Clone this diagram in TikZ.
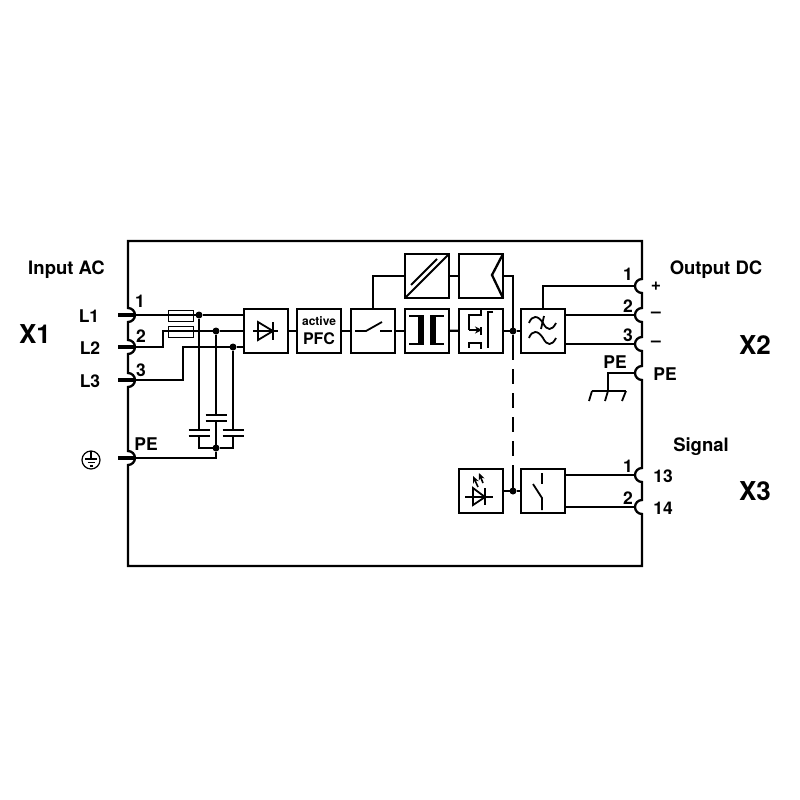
\documentclass[tikz,border=0pt]{standalone}
\usepackage{fontspec}
\setmainfont{TeX Gyre Heros}
\usetikzlibrary{arrows.meta}

\begin{document}
\begin{tikzpicture}[
    x=1pt, y=-1pt,
    line join=miter,
    block/.style={draw, line width=2pt, minimum size=44pt, inner sep=0pt, outer sep=0pt, align=center},
    fuse/.style={draw, line width=1pt, minimum width=25pt, minimum height=11pt, inner sep=0pt, outer sep=0pt},
    wire/.style={line width=2.3pt},
    sym/.style={line width=1.8pt},
    stub/.style={line width=4pt},
    dot/.style={circle, fill, minimum size=7pt, inner sep=0pt, outer sep=0pt},
    lbl/.style={font=\fontsize{17.5}{17.5}\selectfont\bfseries, inner sep=0pt},
    title/.style={font=\fontsize{18.5}{18.5}\selectfont\bfseries, inner sep=0pt},
    big/.style={font=\fontsize{26}{26}\selectfont\bfseries, inner sep=0pt}
]
    \useasboundingbox (0,0) rectangle (800,800);

    % Housing with the terminals cut into both sides
    \draw[wire] (128,241) -- (642,241) -- (642,279)
        arc[start angle=-90, end angle=-270, radius=7] -- (642,308)
        arc[start angle=-90, end angle=-270, radius=7] -- (642,337)
        arc[start angle=-90, end angle=-270, radius=7] -- (642,366)
        arc[start angle=-90, end angle=-270, radius=7] -- (642,468)
        arc[start angle=-90, end angle=-270, radius=7] -- (642,500)
        arc[start angle=-90, end angle=-270, radius=7] -- (642,566)
        -- (128,566) -- (128,465)
        arc[start angle=90, end angle=-90, radius=7] -- (128,387)
        arc[start angle=90, end angle=-90, radius=7] -- (128,354)
        arc[start angle=90, end angle=-90, radius=7] -- (128,322)
        arc[start angle=90, end angle=-90, radius=7] -- cycle;

    % Terminals
    \coordinate (tL1) at (135,315);
    \coordinate (tL2) at (135,347);
    \coordinate (tL3) at (135,380);
    \coordinate (tPE) at (135,458);
    \coordinate (tPlus) at (635,286);
    \coordinate (tMinusA) at (635,315);
    \coordinate (tMinusB) at (635,344);
    \coordinate (tGnd) at (635,373);
    \coordinate (t13) at (635,475);
    \coordinate (t14) at (635,507);
    \foreach \t in {tL1, tL2, tL3, tPE}
        \draw[stub] (\t) ++(-17,0) -- (\t);

    % Blocks
    \node[block] (diode) at (265.5,331) {};
    \node[block] (pfc) at (319,331) {\fontsize{12}{12}\selectfont\bfseries active\\[7pt]\fontsize{16}{16}\selectfont\bfseries PFC};
    \node[block] (relay) at (373,331) {};
    \node[block] (trafo) at (427,331) {};
    \node[block] (mosfet) at (481,330.5) {};
    \node[block] (dcdc) at (427,276) {};
    \node[block] (ctrl) at (481,276) {};
    \node[block] (filter) at (543,330.5) {};
    \node[block] (led) at (481,491) {};
    \node[block] (contact) at (543,491) {};
    \node[fuse] (fuse1) at (180.5,316) {};
    \node[fuse] (fuse2) at (180.5,331.5) {};

    % Junctions
    \node[dot] (j1) at (199,315) {};
    \node[dot] (j2) at (216,331) {};
    \node[dot] (j3) at (233,347) {};
    \node[dot] (jPE) at (216,448) {};
    \node[dot] (jOut) at (513,331) {};
    \node[dot] (jSig) at (513,491) {};

    % Input side
    \draw[wire] (tL1) -- (j1) -- (diode.west |- j1);
    \draw[wire] (tL2) -| (163,331) -- (j2) -- (diode.west |- j2);
    \draw[wire] (tL3) -| (183,347) -- (j3) -- (diode.west |- j3);
    \draw[wire] (tPE) -| (jPE);

    % Capacitors
    \draw[wire] (j1) -- (199,430);
    \draw[wire] (j2) -- (216,415);
    \draw[wire] (j3) -- (233,430);
    \foreach \cx/\cy in {199/430, 216/415, 233/430} {
        \draw[wire] ({\cx-10.5},\cy) -- ({\cx+10.5},\cy);
        \draw[wire] ({\cx-10.5},\cy+6) -- ({\cx+10.5},\cy+6);
    }
    \draw[wire] (199,436) |- (jPE);
    \draw[wire] (233,436) |- (jPE);
    \draw[wire] (216,421) -- (jPE);

    % Chain of blocks
    \draw[wire] (diode) -- (pfc);
    \draw[wire] (pfc) -- (relay);
    \draw[wire] (relay) -- (trafo);
    \draw[wire] (trafo) -- (mosfet);
    \draw[wire] (mosfet.east |- jOut) -- (jOut) -- (filter.west |- jOut);
    \draw[wire] (relay.north) |- (dcdc.west);
    \draw[wire] (dcdc) -- (ctrl);
    \draw[wire] (ctrl.east) -| (jOut);
    \draw[wire, dash pattern=on 15pt off 9pt] (jOut) ++(0,14) -- (513,478);
    \draw[wire] (jOut) -- ++(0,14);
    \draw[wire] (513,478) -- (jSig);
    \draw[wire] (led.east) -- (jSig) -- (contact.west);

    % Output side
    \draw[wire] (filter.north) |- (tPlus);
    \draw[wire] (filter.east |- tMinusA) -- (tMinusA);
    \draw[wire] (filter.east |- tMinusB) -- (tMinusB);
    \draw[wire] (contact.east |- t13) -- (t13);
    \draw[wire] (contact.east |- t14) -- (t14);

    % Field earth
    \coordinate (gnd) at (608,391);
    \draw[wire] (tGnd) -| (gnd);
    \draw[sym] (592,391) -- (626,391);
    \draw[sym] (592,391) -- (589,401);
    \draw[sym] (gnd) -- (605,401);
    \draw[sym] (626,391) -- (622,401);

    % Earth symbol
    \node[draw, circle, line width=1.2pt, minimum size=18pt, inner sep=0pt] (earth) at (91,460) {};
    \draw[line width=1.2pt] (91,451) -- (91,459);
    \draw[line width=1.2pt] (85,459) -- (97,459);
    \draw[line width=1.2pt] (87.5,462.5) -- (94.5,462.5);
    \draw[line width=1.2pt] (89.5,466) -- (92.5,466);

    % Rectifier
    \draw[sym] (253,331) -- (278,331);
    \draw[sym] (258,322) -- (258,340) -- (273,331) -- cycle;
    \draw[sym] (273,322) -- (273,340);

    % Switch
    \draw[sym] (355,331) -- (366,331) -- (382,322);
    \draw[sym] (380,331) -- (392,331);

    % Transformer
    \draw[sym] (409,316) -- (424,316);
    \draw[sym] (409,344) -- (424,344);
    \draw[sym] (430,316) -- (444,316);
    \draw[sym] (430,344) -- (444,344);
    \fill (418,316) rectangle (424,344);
    \fill (430,316) rectangle (436,344);

    % DC/DC and control
    \draw[sym] (dcdc.south west) -- (dcdc.north east);
    \draw[sym] (411,285) -- (437,259);
    \draw[wire] (ctrl.north east) -- (492,275) -- (ctrl.south east);

    % MOSFET
    \draw[sym] (481,315) -- (469,315) -- (469,330);
    \draw[sym, -{Stealth[length=7pt,width=7pt]}] (469,330) -- (482,330);
    \draw[sym] (481,343) -- (469,343) -- (469,348);
    \draw[sym] (481,310) -- (481,316);
    \draw[sym] (481,327) -- (481,335);
    \draw[sym] (481,342) -- (481,349);
    \draw[sym] (493,312) -- (488,312) -- (488,348);

    % Filter
    \draw[sym] (529,323) .. controls (532,315) and (538,315) .. (543,323)
        .. controls (547,331) and (552,331) .. (556,323);
    \draw[sym] (529,338) .. controls (532,330) and (538,330) .. (543,338)
        .. controls (547,346) and (552,346) .. (556,338);
    \draw[sym] (544,316) -- (541,329);

    % LED
    \draw[sym] (465,497) -- (493,497);
    \draw[sym] (473,488) -- (473,505) -- (485,497) -- cycle;
    \draw[sym] (485,488) -- (485,505);
    \draw[line width=1.6pt, -{Stealth[length=7pt,width=6pt]}] (478,487) -- (473,476);
    \draw[line width=1.6pt, -{Stealth[length=7pt,width=6pt]}] (483,483) -- (479,473);

    % Signal contact
    \draw[sym] (542,473) -- (542,484);
    \draw[sym] (533,484) -- (542,498) -- (542,510);

    % Texts
    \node[title] (inputLbl) at (66.5,270) {Input AC};
    \node[big] (x1) at (35,334) {X1};
    \node[lbl] (l1) at (89,316) {L1};
    \node[lbl] (l2) at (90,348) {L2};
    \node[lbl] (l3) at (90,381) {L3};
    \node[lbl] (n1) at (140,301) {1};
    \node[lbl] (n2) at (141,336) {2};
    \node[lbl] (n3) at (141,370) {3};
    \node[lbl] (pe1) at (146,444) {PE};
    \node[title] (outputLbl) at (716,270) {Output DC};
    \node[lbl] (n4) at (628,274) {1};
    \node[lbl] (n5) at (628,306) {2};
    \node[lbl] (n6) at (628,335) {3};
    \node[lbl] (plus) at (656,286) {+};
    \node[lbl] (minusA) at (656,315) {--};
    \node[lbl] (minusB) at (656,344) {--};
    \node[lbl] (pe2) at (615,362) {PE};
    \node[lbl] (pe3) at (665,374) {PE};
    \node[big] (x2) at (755,345) {X2};
    \node[title] (signalLbl) at (701,447) {Signal};
    \node[lbl] (n7) at (628,466) {1};
    \node[lbl] (n8) at (628,498) {2};
    \node[lbl] (n13) at (663,476) {13};
    \node[lbl] (n14) at (663,508) {14};
    \node[big] (x3) at (755,491) {X3};
\end{tikzpicture}
\end{document}
